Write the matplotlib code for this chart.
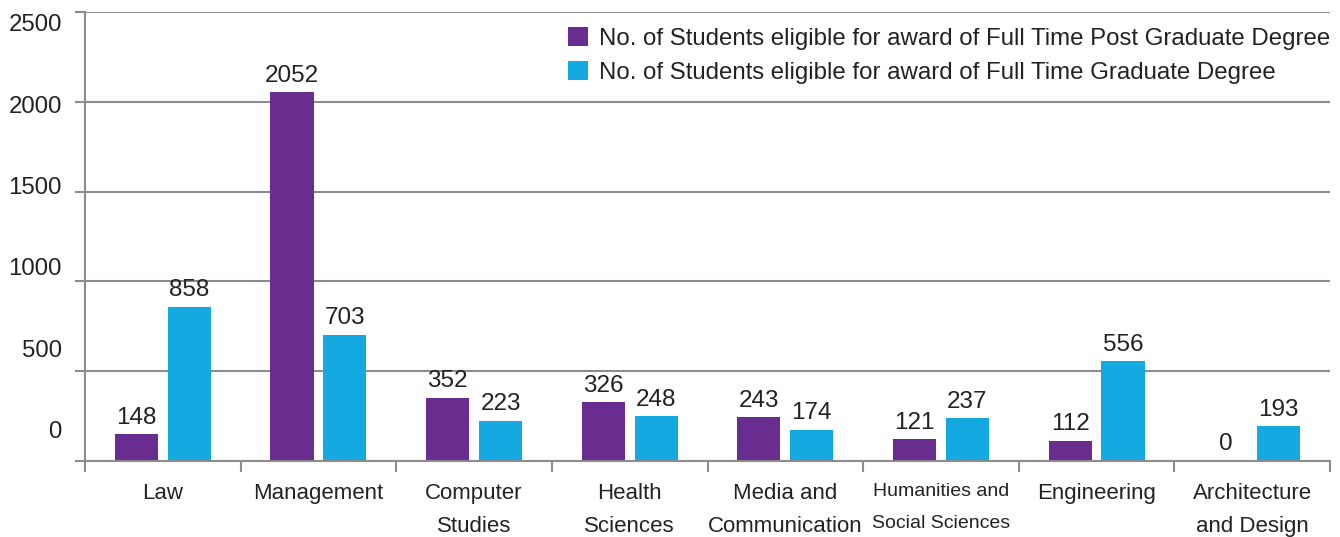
import numpy as np
import matplotlib
matplotlib.use('Agg')
import matplotlib.pyplot as plt
import matplotlib.transforms as mtransforms

plt.rcParams['font.family'] = ['Liberation Sans Narrow', 'Liberation Sans', 'DejaVu Sans']

categories = ['Law', 'Management', 'Computer\nStudies', 'Health\nSciences',
              'Media and\nCommunication', 'Humanities and\nSocial Sciences',
              'Engineering', 'Architecture\nand Design']
post_grad = [148, 2052, 352, 326, 243, 121, 112, 0]
grad = [858, 703, 223, 248, 174, 237, 556, 193]
series_names = ['No. of Students eligible for award of Full Time Post Graduate Degree',
                'No. of Students eligible for award of Full Time Graduate Degree']
y_ticks = [0, 500, 1000, 1500, 2000, 2500]

purple = '#692d8f'
cyan = '#14a9e0'
grey = '#8c8c8c'
txt = '#222222'

fig = plt.figure(figsize=(13.4, 5.37), dpi=100)
ax = fig.add_axes([85 / 1340, 1 - 461 / 537, 1245 / 1340, 449 / 537])

x = np.arange(len(categories))
w = 0.277
off = 0.17
b1 = ax.bar(x - off, post_grad, w, color=purple, label=series_names[0], zorder=3)
b2 = ax.bar(x + off, grad, w, color=cyan, label=series_names[1], zorder=3)

for bars, vals in [(b1, post_grad), (b2, grad)]:
    for r, v in zip(bars, vals):
        ax.annotate(str(v), (r.get_x() + r.get_width() / 2, v), xytext=(0, 4),
                    textcoords='offset points', ha='center', va='bottom',
                    fontsize=17.5, color=txt)

ax.set_xlim(-0.5, len(categories) - 0.5)
ax.set_ylim(0, 2500)

# gridlines + ticks
ax.set_yticks(y_ticks)
ax.set_yticklabels([])
ax.yaxis.grid(True, color=grey, linewidth=1.5, zorder=0)
ax.tick_params(axis='y', length=7.5, width=1.5, color=grey, direction='out')

ax.set_xticks(x)
ax.set_xticklabels(categories, fontsize=16, color=txt, linespacing=1.75, va='top')
ax.get_xticklabels()[5].set_fontsize(14)
ax.get_xticklabels()[5].set_linespacing(2.15)
ax.set_xticks(np.arange(-0.5, len(categories)), minor=True)
ax.tick_params(axis='x', which='major', length=0, pad=16)
ax.tick_params(axis='x', which='minor', length=8, width=1.5, color=grey, direction='out')

for s in ['top', 'right']:
    ax.spines[s].set_visible(False)
for s in ['left', 'bottom']:
    ax.spines[s].set_color(grey)
    ax.spines[s].set_linewidth(1.5)
    ax.spines[s].set_zorder(4)

# y labels sit a bit off the gridlines in the original
trans = mtransforms.blended_transform_factory(ax.transAxes, ax.transData)
label_pos = np.linspace(160, 2427, len(y_ticks))
for v, p in zip(y_ticks, label_pos):
    ax.text(-0.0185, p, str(v), transform=trans, ha='right', va='center',
            fontsize=17.3, color=txt)

leg = ax.legend(loc='upper right', bbox_to_anchor=(1330 / 1340, 1 - 27 / 537),
                bbox_transform=fig.transFigure, frameon=False, fontsize=17.3,
                handlelength=0.85, handleheight=0.85, handletextpad=0.45,
                labelspacing=0.45, borderaxespad=0, borderpad=0,
                labelcolor=txt)

fig.savefig('out.png', dpi=100)
